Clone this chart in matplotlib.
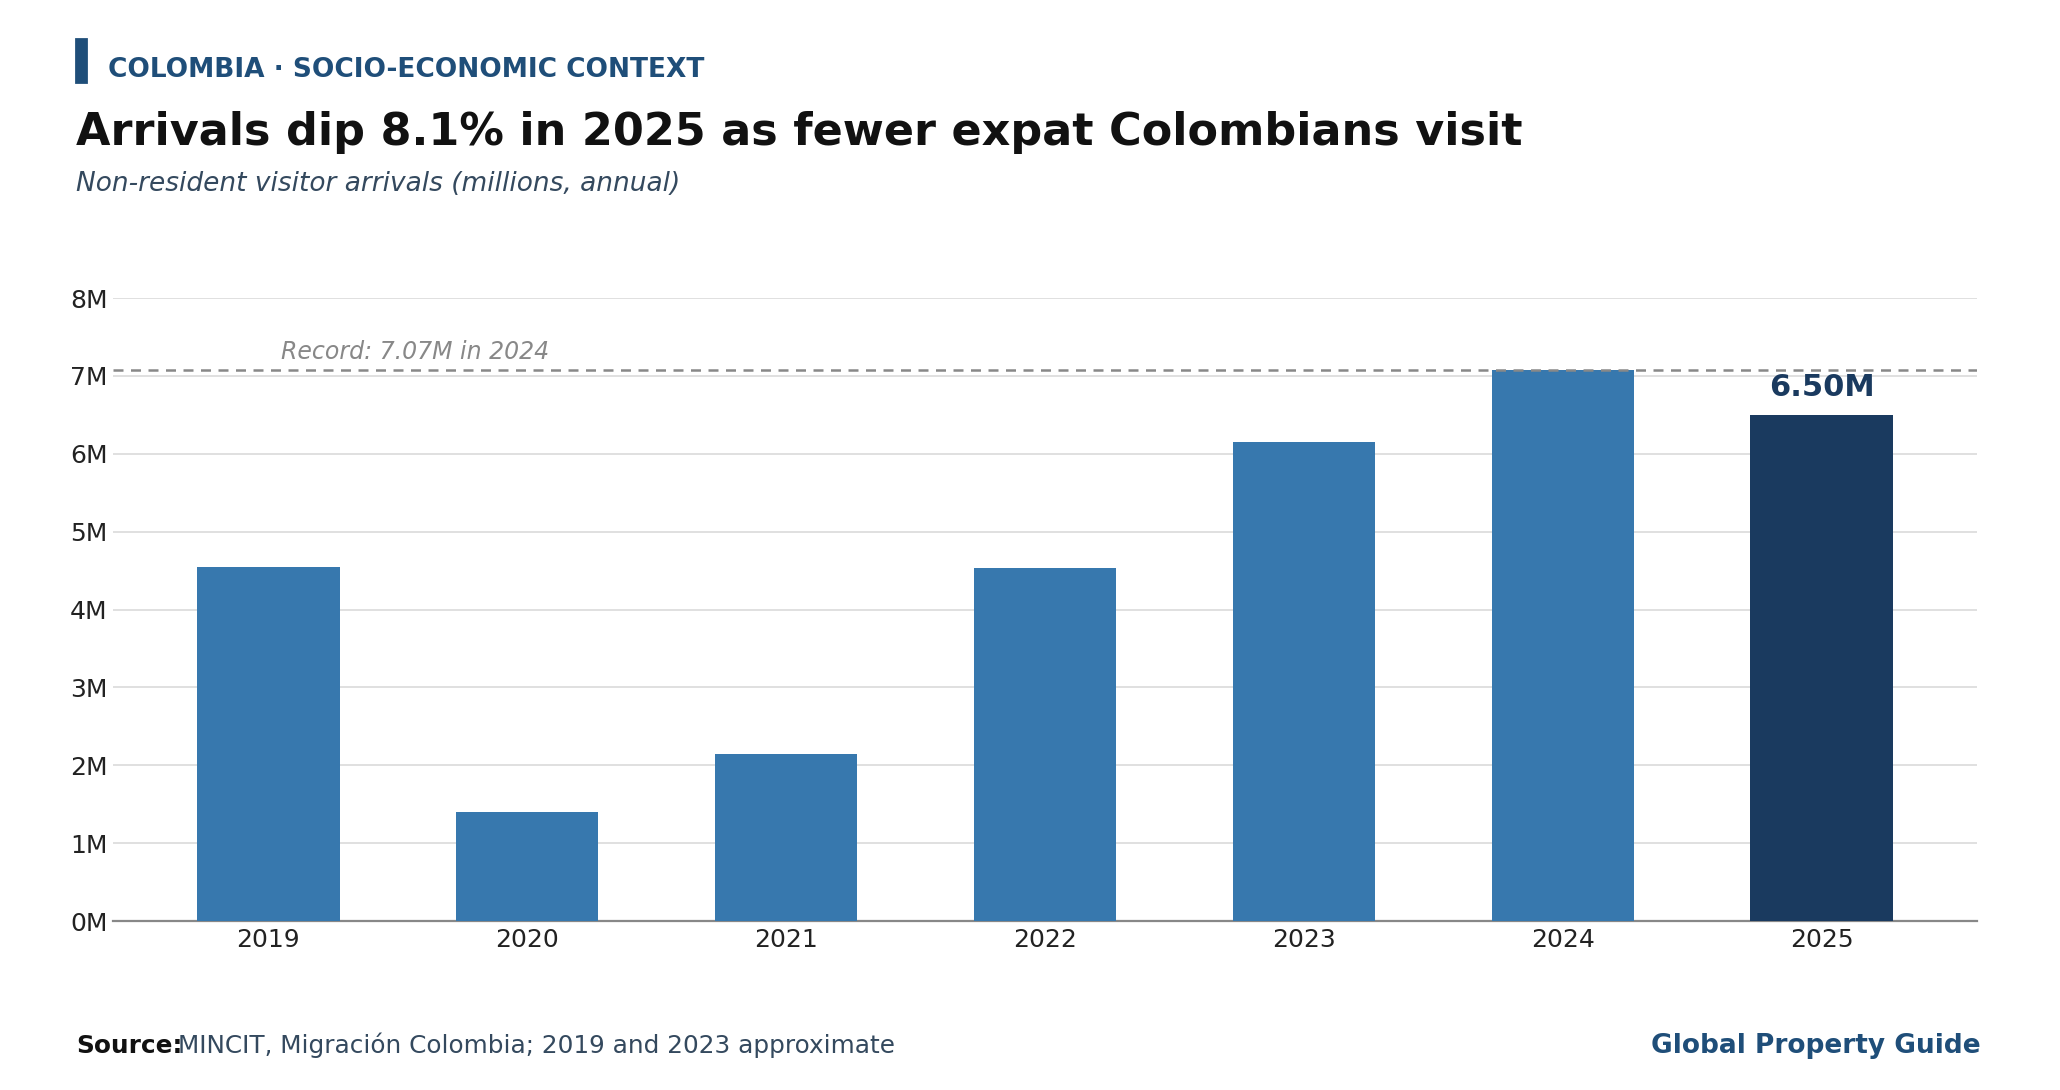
import matplotlib
matplotlib.use("Agg")
import matplotlib.pyplot as plt
from matplotlib.patches import Rectangle

years = ["2019", "2020", "2021", "2022", "2023", "2024", "2025"]
arrivals = [4.54, 1.40, 2.15, 4.53, 6.15, 7.07, 6.50]
yticks = [0, 1, 2, 3, 4, 5, 6, 7, 8]
ytick_labels = [f"{v}M" for v in yticks]
record_value = 7.07

BAR = "#3778ae"
HI = "#1a3a5f"
HEAD = "#1f4e79"
SUB = "#34495e"

plt.rcParams['font.family'] = ['DejaVu Sans']
fig = plt.figure(figsize=(10.3, 5.45), dpi=200)
ax = fig.add_axes([0.0549, 0.155, 0.9048, 0.5716])

x = list(range(len(years)))
colors = [BAR] * (len(years) - 1) + [HI]
ax.bar(x, arrivals, width=0.55, color=colors, zorder=3)
ax.set_xlim(-0.6, len(years) - 0.4)
ax.set_ylim(0, 8)
ax.set_yticks(yticks)
ax.set_yticklabels(ytick_labels)
ax.set_xticks(x)
ax.set_xticklabels(years)
ax.tick_params(axis='both', length=0, labelsize=9, colors="#222222")
ax.tick_params(axis='y', pad=2)
ax.tick_params(axis='x', pad=2.5)
ax.grid(axis='y', color="#e0e0e0", linewidth=0.7, zorder=0)
for s in ["top", "right", "left"]:
    ax.spines[s].set_visible(False)
ax.spines["bottom"].set_color("#888888")
ax.spines["bottom"].set_linewidth(0.8)

ax.axhline(record_value, color="#888888", linestyle=(0, (4, 3)), linewidth=0.9, zorder=4)
ax.text(0.05, record_value + 0.08, f"Record: {record_value:.2f}M in 2024",
        fontsize=8.5, style='italic', color="#888888", ha='left', va='bottom')

ax.text(x[-1], arrivals[-1] + 0.17, f"{arrivals[-1]:.2f}M", ha='center', va='bottom',
        fontsize=11, fontweight='bold', color=HI)

# Header
fig.patches.append(Rectangle((0.0371, 0.925), 0.0045, 0.039, transform=fig.transFigure,
                             color=HEAD, zorder=5))
fig.text(0.0524, 0.929, "COLOMBIA · SOCIO-ECONOMIC CONTEXT", fontsize=9.5,
         fontweight='bold', color=HEAD, ha='left', va='baseline')
fig.text(0.037, 0.867, "Arrivals dip 8.1% in 2025 as fewer expat Colombians visit",
         fontsize=16, fontweight='bold', color="#111111", ha='left', va='baseline')
fig.text(0.037, 0.825, "Non-resident visitor arrivals (millions, annual)",
         fontsize=9.5, style='italic', color=SUB, ha='left', va='baseline')

# Footer
src = fig.text(0.037, 0.034, "Source:", fontsize=8.9, fontweight='bold',
               color="#111111", ha='left', va='baseline')
fig.canvas.draw()
bb = src.get_window_extent()
x1 = fig.transFigure.inverted().transform((bb.x1, bb.y0))[0]
fig.text(x1 - 0.002, 0.034, "MINCIT, Migración Colombia; 2019 and 2023 approximate",
         fontsize=8.9, color=SUB, ha='left', va='baseline')
fig.text(0.9617, 0.034, "Global Property Guide", fontsize=9.5, fontweight='bold',
         color=HEAD, ha='right', va='baseline')

fig.savefig("out.png", dpi=200)
